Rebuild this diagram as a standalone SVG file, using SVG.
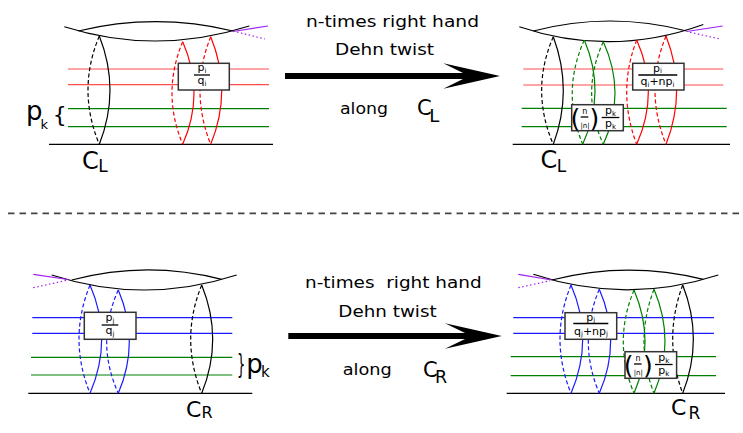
<svg xmlns="http://www.w3.org/2000/svg" width="743" height="433" viewBox="0 0 743 433">
<defs>
<style>
.ln{fill:none;stroke-width:1.2}
.k{stroke:#000}
.r{stroke:#ff0000}
.rl{stroke:#ff4d4d}
.g{stroke:#008000}
.b{stroke:#1a1aff}
.p{stroke:#a020f0}
.d{stroke-dasharray:4 2.5}
.dot{stroke-dasharray:1.5 2.5}
.box{fill:#fff;stroke:#333;stroke-width:1.5}
.bar{stroke:#000;stroke-width:1.3}
text{font-family:"DejaVu Sans","Liberation Sans",sans-serif;fill:#000}
.f{font-size:11px}
.s{font-size:7px}
.mid{font-size:16px}
</style>
</defs>
<rect width="743" height="433" fill="#fff"/>

<!-- separator -->
<line x1="8" y1="213.3" x2="743" y2="213.3" stroke="#444" stroke-width="1.8" stroke-dasharray="6.5 5"/>

<!-- ===== TOP LEFT ===== -->
<g id="top-left">
  <g id="tl-surface">
    <path class="ln k" d="M64.3,26.7 Q156,55.6 249.3,26"/>
    <path class="ln k" d="M78.3,31 Q155.6,12.4 233,31"/>
    <path class="ln p" d="M233,31.5 L268,26"/>
    <path class="ln p dot" d="M237,32 L265,39"/>
  </g>
  <g id="tl-strands">
    <line class="ln rl" x1="68" y1="69" x2="269" y2="69"/>
    <line class="ln rl" x1="68" y1="84.7" x2="269" y2="84.7"/>
    <line class="ln g" x1="68" y1="108.7" x2="269" y2="108.7"/>
    <line class="ln g" x1="68" y1="126.7" x2="269" y2="126.7"/>
    <line class="ln k" x1="49" y1="144.3" x2="273" y2="144.3"/>
  </g>
  <g id="tl-cL">
    <path class="ln k" d="M99.3,36 Q120.7,90 99.3,144.3"/>
    <path class="ln k d" d="M99.3,36 Q76.7,90 99.3,144.3"/>
  </g>
  <g id="tl-red-curves">
    <path class="ln r" d="M182.7,41.7 Q205.3,93 182.7,144.3"/>
    <path class="ln r d" d="M182.7,41.7 Q161.3,93 182.7,144.3"/>
    <path class="ln r" d="M210.7,36.7 Q232.7,90.5 210.7,144.3"/>
    <path class="ln r d" d="M210.7,36.7 Q189.3,90.5 210.7,144.3"/>
  </g>
  <g id="tl-box">
    <rect class="box" x="178.3" y="63.3" width="51" height="26.7"/>
    <text class="f" x="202" y="71" text-anchor="middle">p<tspan class="s" dy="1.5">i</tspan></text>
    <line class="bar" x1="194" y1="75" x2="210" y2="75"/>
    <text class="f" x="202" y="84" text-anchor="middle">q<tspan class="s" dy="1.5">i</tspan></text>
  </g>
  <g id="tl-pk">
    <text x="26" y="119.5" font-size="26">p<tspan font-size="13" dx="-2" dy="9.8">k</tspan></text>
    <text x="52.8" y="122" font-size="22">{</text>
  </g>
  <g id="tl-label">
    <text x="82" y="169" font-size="24">C<tspan font-size="17" dx="-0.5" dy="3">L</tspan></text>
  </g>
</g>

<!-- ===== TOP RIGHT ===== -->
<g id="top-right">
  <g id="tr-surface">
    <path class="ln k" d="M519.3,26.7 Q611.3,57.8 703.3,24.5"/>
    <path class="ln k" d="M533.3,31 Q610,11 686.7,31"/>
    <path class="ln p" d="M686.7,31.5 L722.7,26"/>
    <path class="ln p dot" d="M690,32.3 L720,39"/>
  </g>
  <g id="tr-strands">
    <line class="ln rl" x1="523.3" y1="69" x2="723.3" y2="69"/>
    <line class="ln rl" x1="523.3" y1="85" x2="723.3" y2="85"/>
    <line class="ln g" x1="521.7" y1="108.3" x2="726.7" y2="108.3"/>
    <line class="ln g" x1="521.7" y1="126.7" x2="726.7" y2="126.7"/>
    <line class="ln k" x1="512.7" y1="144.3" x2="730" y2="144.3"/>
  </g>
  <g id="tr-cL">
    <path class="ln k" d="M553.3,36.7 Q573.3,90.5 553.3,144.3"/>
    <path class="ln k d" d="M553.3,36.7 Q530,90.5 553.3,144.3"/>
  </g>
  <g id="tr-green-curves">
    <path class="ln g" d="M584.3,40 Q606.5,92 582.7,144.3"/>
    <path class="ln g d" d="M584.3,40 Q561,92 582.7,144.3"/>
    <path class="ln g" d="M603.3,41.7 Q626.7,93 603.3,144.3"/>
    <path class="ln g d" d="M603.3,41.7 Q580,93 603.3,144.3"/>
  </g>
  <g id="tr-red-curves">
    <path class="ln r" d="M636.7,40 Q660,92 636.7,144.3"/>
    <path class="ln r d" d="M636.7,40 Q616.7,92 636.7,144.3"/>
    <path class="ln r" d="M666,36 Q687.3,90 666,144.3"/>
    <path class="ln r d" d="M666,36 Q644,90 666,144.3"/>
  </g>
  <g id="tr-red-box">
    <rect class="box" x="632.7" y="63.3" width="51.3" height="26.7"/>
    <text class="f" x="657.5" y="71.5" text-anchor="middle">p<tspan class="s" dy="1.5">i</tspan></text>
    <line class="bar" x1="638.3" y1="75" x2="677.3" y2="75"/>
    <text class="f" x="657.5" y="85" text-anchor="middle">q<tspan class="s" dy="1.5">i</tspan><tspan dy="-1.5">+np</tspan><tspan class="s" dy="1.5">i</tspan></text>
  </g>
  <g id="tr-green-box">
    <rect class="box" x="571.7" y="104.7" width="51.6" height="26"/>
    <text x="570.5" y="126.5" font-size="25">(</text>
    <text x="584.8" y="113.5" font-size="8" text-anchor="middle">n</text>
    <line class="bar" x1="580.7" y1="117" x2="588.3" y2="117"/>
    <text x="585" y="128" font-size="7" text-anchor="middle">|n|</text>
    <text x="589.6" y="126.5" font-size="25">)</text>
    <text class="f" x="610.5" y="114" text-anchor="middle">p<tspan class="s" dy="1.5">k</tspan></text>
    <line class="bar" x1="601.7" y1="117.5" x2="619.3" y2="117.5"/>
    <text class="f" x="610.5" y="127" text-anchor="middle">p<tspan class="s" dy="1.5">k</tspan></text>
  </g>
  <g id="tr-label">
    <text x="540.4" y="168" font-size="24">C<tspan font-size="17" dx="-0.5" dy="4">L</tspan></text>
  </g>
</g>

<!-- ===== BOTTOM LEFT ===== -->
<g id="bottom-left">
  <g id="bl-surface">
    <path class="ln k" d="M51.7,275 Q144,305 236.7,275"/>
    <path class="ln k" d="M71.7,280 Q146.7,260 221.7,279.3"/>
    <path class="ln p" d="M33.3,274.3 L68,279.5"/>
    <path class="ln p dot" d="M33.3,287.7 L66.7,280.3"/>
  </g>
  <g id="bl-strands">
    <line class="ln b" x1="32.3" y1="317.7" x2="232.3" y2="317.7"/>
    <line class="ln b" x1="32.3" y1="333.3" x2="232.3" y2="333.3"/>
    <line class="ln g" x1="31" y1="357.3" x2="232.3" y2="357.3"/>
    <line class="ln g" x1="31" y1="375" x2="232.3" y2="375"/>
    <line class="ln k" x1="28.3" y1="393.3" x2="252.3" y2="393.3"/>
  </g>
  <g id="bl-blue-curves">
    <path class="ln b" d="M90,285 Q113.4,339 90,393.3"/>
    <path class="ln b d" d="M90,285 Q68,339 90,393.3"/>
    <path class="ln b" d="M118.3,290 Q140.3,341.7 118.3,393.3"/>
    <path class="ln b d" d="M118.3,290 Q95,341.7 118.3,393.3"/>
  </g>
  <g id="bl-cR">
    <path class="ln k" d="M201.7,285 Q223.7,339 201.7,393.3"/>
    <path class="ln k d" d="M201.7,285 Q179.7,339 201.7,393.3"/>
  </g>
  <g id="bl-box">
    <rect class="box" x="84.3" y="312.3" width="51.7" height="27"/>
    <text class="f" x="110" y="321" text-anchor="middle">p<tspan class="s" dy="1.5">j</tspan></text>
    <line class="bar" x1="101.7" y1="325" x2="118.3" y2="325"/>
    <text class="f" x="110" y="334" text-anchor="middle">q<tspan class="s" dy="1.5">j</tspan></text>
  </g>
  <g id="bl-pk">
    <text x="237" y="373" font-size="26" textLength="8.3" lengthAdjust="spacingAndGlyphs">}</text>
    <text x="246.2" y="372.9" font-size="26">p<tspan font-size="15" dx="-1.7" dy="3.8">k</tspan></text>
  </g>
  <g id="bl-label">
    <text x="186" y="416.7" font-size="22">C<tspan font-size="16" dx="0.2" dy="1.6">R</tspan></text>
  </g>
</g>

<!-- ===== BOTTOM RIGHT ===== -->
<g id="bottom-right">
  <g id="br-surface">
    <path class="ln k" d="M533.3,274.3 Q626,305 718.3,275"/>
    <path class="ln k" d="M551.7,280 Q627.5,260.5 703.3,279.3"/>
    <path class="ln p" d="M518.3,274.3 L551.7,280"/>
    <path class="ln p dot" d="M518.3,287.7 L550,280.7"/>
  </g>
  <g id="br-strands">
    <line class="ln b" x1="513.3" y1="317.7" x2="714" y2="317.7"/>
    <line class="ln b" x1="513.3" y1="333.3" x2="714" y2="333.3"/>
    <line class="ln g" x1="510.7" y1="356.7" x2="716" y2="356.7"/>
    <line class="ln g" x1="510.7" y1="375.7" x2="716" y2="375.7"/>
    <line class="ln k" x1="506.7" y1="393.3" x2="725" y2="393.3"/>
  </g>
  <g id="br-blue-curves">
    <path class="ln b" d="M571,285 Q594.4,339 571,393.3"/>
    <path class="ln b d" d="M571,285 Q549,339 571,393.3"/>
    <path class="ln b" d="M599.3,289.3 Q622,341.3 599.3,393.3"/>
    <path class="ln b d" d="M599.3,289.3 Q577.3,341.3 599.3,393.3"/>
  </g>
  <g id="br-green-curves">
    <path class="ln g" d="M634,290 Q656,341.7 634,393.3"/>
    <path class="ln g d" d="M634,290 Q612.6,341.7 634,393.3"/>
    <path class="ln g" d="M654,289.3 Q676,341.3 654,393.3"/>
    <path class="ln g d" d="M654,289.3 Q634,341.3 654,393.3"/>
  </g>
  <g id="br-cR">
    <path class="ln k" d="M682.7,285 Q704,339 682.7,393.3"/>
    <path class="ln k d" d="M682.7,285 Q662.7,339 682.7,393.3"/>
  </g>
  <g id="br-blue-box">
    <rect class="box" x="565" y="312.7" width="51.7" height="26.6"/>
    <text class="f" x="590.8" y="320.8" text-anchor="middle">p<tspan class="s" dy="1.5">j</tspan></text>
    <line class="bar" x1="573.3" y1="323.5" x2="608.3" y2="323.5"/>
    <text class="f" x="591" y="334.5" text-anchor="middle">q<tspan class="s" dy="1.5">j</tspan><tspan dy="-1.5">+np</tspan><tspan class="s" dy="1.5">j</tspan></text>
  </g>
  <g id="br-green-box" transform="translate(53.3,247)">
    <rect class="box" x="571.7" y="104.7" width="51.6" height="26.6"/>
    <text x="570.5" y="126.5" font-size="25">(</text>
    <text x="584.8" y="113.5" font-size="8" text-anchor="middle">n</text>
    <line class="bar" x1="580.7" y1="117" x2="588.3" y2="117"/>
    <text x="585" y="128" font-size="7" text-anchor="middle">|n|</text>
    <text x="589.6" y="126.5" font-size="25">)</text>
    <text class="f" x="610.5" y="114" text-anchor="middle">p<tspan class="s" dy="1.5">k</tspan></text>
    <line class="bar" x1="601.7" y1="117.5" x2="619.3" y2="117.5"/>
    <text class="f" x="610.5" y="127" text-anchor="middle">p<tspan class="s" dy="1.5">k</tspan></text>
  </g>
  <g id="br-label">
    <text x="671" y="415" font-size="22">C<tspan font-size="17" dx="2" dy="4.3">R</tspan></text>
  </g>
</g>

<!-- ===== CONNECTORS ===== -->
<g id="connectors">
  <path id="arrow-top" fill="#000" d="M285,73 L463,73 L443.3,63.3 L500,76 L443.3,88.7 L463,79 L285,79 Z"/>
  <path id="arrow-bottom" fill="#000" d="M288.3,333 L465,333 L445,323.3 L501.7,336 L445,348.7 L465,339 L288.3,339 Z"/>
</g>

<g id="arrow-top-labels">
  <text class="mid" x="306" y="27.3" textLength="173" lengthAdjust="spacingAndGlyphs">n-times right hand</text>
  <text class="mid" x="335" y="55" textLength="99" lengthAdjust="spacingAndGlyphs">Dehn twist</text>
  <text class="mid" x="340" y="114" textLength="48" lengthAdjust="spacingAndGlyphs">along</text>
  <text x="417" y="115" font-size="21">C<tspan font-size="18" dx="-2.5" dy="6.7">L</tspan></text>
</g>
<g id="arrow-bottom-labels">
  <text class="mid" x="305" y="288.3" textLength="176.7" lengthAdjust="spacingAndGlyphs" xml:space="preserve">n-times  right hand</text>
  <text class="mid" x="338.3" y="316.7" textLength="98.4" lengthAdjust="spacingAndGlyphs">Dehn twist</text>
  <text class="mid" x="342.7" y="375" textLength="49" lengthAdjust="spacingAndGlyphs">along</text>
  <text x="423" y="376.7" font-size="21">C<tspan font-size="17.5" dx="-2.7" dy="6">R</tspan></text>
</g>
</svg>
